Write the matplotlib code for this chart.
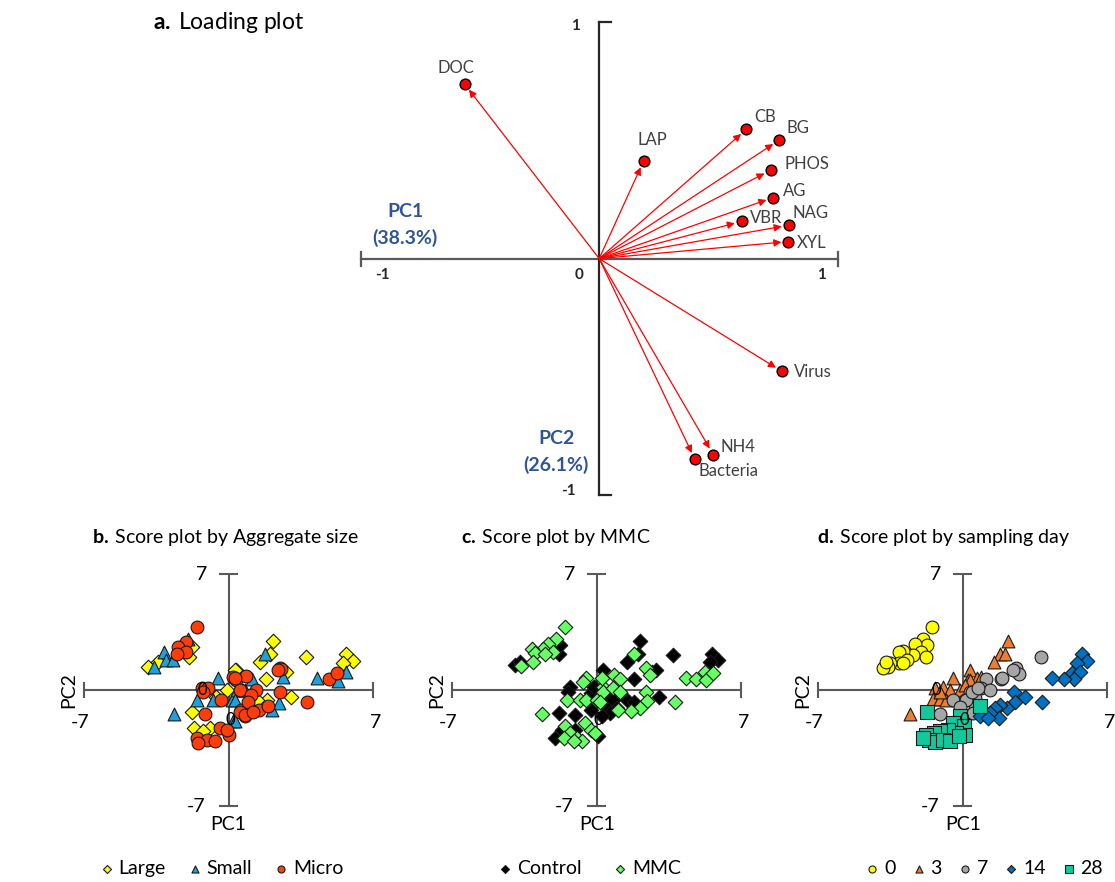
import matplotlib
matplotlib.use("Agg")
import matplotlib.pyplot as plt

plt.rcParams['font.family'] = ['Lato', 'DejaVu Sans']
plt.rcParams['mathtext.fontset'] = 'custom'
plt.rcParams['mathtext.rm'] = 'Lato'
plt.rcParams['mathtext.bf'] = 'Lato:bold'

# ---- loading plot data (PC1, PC2 loadings) ----
variables = ['DOC', 'LAP', 'CB', 'BG', 'PHOS', 'AG', 'VBR', 'NAG', 'XYL', 'Virus', 'NH4', 'Bacteria']
load_pc1 = [-0.564, 0.186, 0.617, 0.754, 0.719, 0.729, 0.597, 0.794, 0.793, 0.766, 0.478, 0.401]
load_pc2 = [0.738, 0.413, 0.547, 0.501, 0.374, 0.258, 0.157, 0.141, 0.072, -0.477, -0.829, -0.849]
label_x = [-0.601, 0.221, 0.694, 0.835, 0.869, 0.820, 0.699, 0.888, 0.890, 0.895, 0.582, 0.544]
label_y = [0.806, 0.501, 0.600, 0.552, 0.400, 0.286, 0.171, 0.192, 0.065, -0.480, -0.798, -0.900]

# ---- score plot b: by aggregate size ----
large_x = [-3.9, -3.4, -1.8, -1.9, 0.35, -0.1, -0.6, -1.8, -1.7, -0.9, -1.25,
           2.15, 2.0, 1.5, 1.8, 3.75, 5.7, 6.0, 5.55, 3.0, 0.3, 2.8, 1.85, 1.35]
large_y = [1.4, 1.7, 2.6, 2.0, 1.2, 0.0, -0.4, -1.3, -2.3, -2.3, -2.5,
           2.95, 2.2, 1.7, 0.65, 2.0, 2.15, 1.75, 1.65, -0.4, 1.2, 1.1, -0.6, -0.6]
small_x = [-3.15, -3.05, -3.6, -2.7, -1.95, -0.5, -1.55, -0.75, 0.15, -2.65, 0.2, 0.7, 0.4,
           1.75, 2.65, 4.3, 5.3, 5.7, 1.15, 2.45, 2.1, 0.3, 0.8, 0.3]
small_y = [2.3, 1.8, 1.4, 1.8, 3.1, 0.7, -0.6, -0.6, -0.6, -1.45, -1.9, 0.0, 0.0,
           2.2, 0.8, 0.7, 0.55, 1.1, 0.65, -0.8, -1.2, -0.6, 0.0, -1.9]
micro_x = [-1.55, -2.05, -2.45, -2.05, -2.5, -1.3, -1.0, -1.25, -0.35, -1.15, 0.2, 0.35, 0.55,
           0.6, 0.8, -0.4, 0.0, -0.1, -1.55, -1.05, -0.65, -1.5,
           2.5, 2.55, 2.4, 0.85, 0.3, 4.85, 5.25, 2.5, 3.8, 1.3, 1.1, 0.95, 1.45, 1.9, 0.55, 0.8, 1.2]
micro_y = [3.8, 2.9, 2.6, 2.3, 2.2, 0.1, 0.1, -0.1, -0.6, -1.45, 0.8, 0.6, 0.0,
           -1.2, -1.6, -2.3, -2.7, -2.4, -2.9, -3.0, -3.1, -3.2,
           1.35, 1.25, 1.2, 0.85, 0.7, 0.65, 1.0, -0.15, -0.7, 0.0, -0.3, -0.7, -1.2, -0.95, -1.3, -1.5, -1.3]

# ---- score plot c: by MMC ----
control_x = [-3.95, -3.7, -1.85, -1.8, -1.3, -1.4, 0.3, -1.85, -1.05, -1.7, -2.0, -1.05, -0.3, -0.15,
             0.5, 0.4, -0.3, 2.1, 2.0, 1.45, 3.7, 5.6, 5.85, 5.5, 2.7, 1.8, 3.0, -0.15,
             0.8, 1.45, 1.8, 1.0, 0.65, 0.25, 0.05, 2.85]
control_y = [1.5, 1.7, 2.2, 2.7, 0.2, -0.1, 1.2, -1.4, -1.5, -2.4, -2.9, -2.4, -0.2, 0.2,
             -0.4, -0.9, -1.2, 2.95, 2.15, 1.7, 2.1, 2.2, 1.8, 1.7, 1.1, 0.65, -0.4, 0.2,
             -0.6, -0.6, -0.7, -1.1, -1.4, -1.6, -2.75, 1.2]
mmc_x = [-1.55, -1.95, -2.35, -2.6, -2.1, -3.15, -3.0, -2.5, -3.1, -3.65, -0.5, -0.65, -1.45, -0.8,
         -0.5, 0.0, 0.3, -2.65, -1.55, -1.3, -1.6, -0.95, -0.55, -0.3, -0.1, -0.7, -1.1, 0.25,
         1.8, 2.4, 2.6, 4.3, 4.8, 5.25, 5.3, 5.65, 0.85, 1.15, 0.3, 0.8, 1.15, 2.4, 3.8,
         2.45, 2.1, 1.65, 1.05, 0.15]
mmc_y = [3.8, 3.05, 2.8, 2.45, 2.3, 2.45, 2.25, 2.15, 1.7, 1.45, 0.7, 0.5, -0.6, -0.6,
         -0.6, -0.6, 0.2, -1.45, -2.2, -2.6, -2.9, -2.9, -2.0, -2.4, -2.6, -3.1, -3.1, 0.7,
         2.2, 1.3, 0.9, 0.7, 0.65, 1.1, 0.6, 1.05, 0.9, 0.65, -0.1, 0.1, -0.1, -0.1, -0.7,
         -0.65, -1.1, -1.25, -1.2, -0.7]

# ---- score plot d: by sampling day ----
day0_x = [-1.5, -1.9, -1.75, -2.3, -2.0, -1.8, -2.4, -2.9, -3.1, -2.7, -3.1, -2.9, -3.5, -3.6, -3.85, -3.7]
day0_y = [3.8, 3.05, 2.7, 2.75, 2.3, 2.0, 2.1, 2.35, 2.3, 1.8, 1.65, 1.6, 1.6, 1.4, 1.35, 1.7]
day3_x = [0.35, -0.45, 0.27, 0.68, -1.35, -0.95, -0.6, -0.15, -1.45, -1.1, -2.55,
          2.2, 1.8, 2.05, 1.5, 0.9, 0.35, 0.1, -0.8, -1.1]
day3_y = [1.2, 0.7, 0.6, 0.7, 0.1, 0.2, 0.0, 0.0, -0.55, -0.55, -1.45,
          2.95, 2.2, 2.15, 1.7, 0.8, 0.6, 0.3, -0.6, -0.1]
day7_x = [3.8, 2.6, 2.75, 2.45, 1.85, 1.15, 0.9, 1.3, 0.35, 0.1, 0.6, 0.6,
          -0.45, 0.15, 0.45, -1.1, -0.15, 0.75, 1.9, 0.5]
day7_y = [2.0, 1.3, 0.95, 1.2, 0.65, 0.65, 0.1, 0.0, -0.1, -0.6, -0.5, -1.1,
          -0.6, -0.6, -0.1, -1.45, -1.0, 0.1, 0.7, -1.4]
day14_x = [5.8, 6.0, 5.55, 5.3, 5.7, 5.4, 4.9, 4.35, 2.5, 3.0, 3.85, 2.55, 2.15, 1.8,
           1.55, 1.75, 1.3, 0.85, 1.25]
day14_y = [2.15, 1.75, 1.65, 1.05, 1.1, 0.65, 0.65, 0.7, -0.1, -0.4, -0.7, -0.7, -1.1, -0.9,
           -1.1, -1.7, -1.4, -1.6, -1.7]
day28_x = [-1.75, 0.85, -0.15, -0.45, 0.05, 0.1, -0.3, -0.7, -1.1, -1.4, -1.8, -1.65,
           -1.35, -0.95, -0.6, -1.9, -0.2]
day28_y = [-1.3, -0.97, -1.6, -2.0, -2.2, -2.7, -2.6, -2.4, -2.5, -2.6, -2.7, -3.0,
           -3.15, -3.0, -3.1, -2.9, -2.8]

axis_col = '#595959'
text_col = '#404040'
blue_txt = '#2F5597'

fig = plt.figure(figsize=(11.15, 8.82), dpi=100)

# ---------------- a. Loading plot ----------------
ax = fig.add_axes([0.3235, 0.4388, 0.4278, 0.536])
ax.set_xlim(-1, 1)
ax.set_ylim(-1, 1)
ax.axis('off')
ax.plot([-1, 1], [0, 0], color=axis_col, lw=1.6, clip_on=False)
ax.plot([0, 0], [-1, 1], color='#262626', lw=1.6, clip_on=False)
for e in (-1, 1):
    ax.plot([e, e], [-0.03, 0.03], color=axis_col, lw=1.6, clip_on=False)
    ax.plot([0, 0.05], [e, e], color='#262626', lw=1.6, clip_on=False)

for i in range(len(variables)):
    ax.annotate('', xy=(load_pc1[i], load_pc2[i]), xytext=(0, 0),
                arrowprops=dict(arrowstyle='-|>', color='red', lw=0.9,
                                shrinkA=0, shrinkB=5, mutation_scale=11))
ax.scatter(load_pc1, load_pc2, s=60, color='#FF0000', edgecolor='black',
           linewidth=1.0, zorder=5, clip_on=False)
for i, v in enumerate(variables):
    ax.text(label_x[i], label_y[i], v, fontsize=12, color=text_col,
            ha='center', va='center')

ax.text(-0.91, -0.07, '-1', fontsize=11, fontweight='bold', color='#262626', ha='center', va='center')
ax.text(0.93, -0.07, '1', fontsize=11, fontweight='bold', color='#262626', ha='center', va='center')
ax.text(-0.085, -0.07, '0', fontsize=11, fontweight='bold', color='#262626', ha='center', va='center')
ax.text(-0.1, 0.985, '1', fontsize=11, fontweight='bold', color='#262626', ha='center', va='center')
ax.text(-0.13, -0.985, '-1', fontsize=11, fontweight='bold', color='#262626', ha='center', va='center')
ax.text(-0.813, 0.2, 'PC1', fontsize=14, fontweight='bold', color=blue_txt, ha='center', va='center')
ax.text(-0.813, 0.088, '(38.3%)', fontsize=14, fontweight='bold', color=blue_txt, ha='center', va='center')
ax.text(-0.18, -0.76, 'PC2', fontsize=14, fontweight='bold', color=blue_txt, ha='center', va='center')
ax.text(-0.18, -0.875, '(26.1%)', fontsize=14, fontweight='bold', color=blue_txt, ha='center', va='center')

fig.text(0.137, 0.975, r'$\bf{a.}\,$Loading plot', fontsize=16.5, color='black', va='center', ha='left')


def score_axes(left, title, tx=-6.6):
    a = fig.add_axes([left, 0.0862, 0.2592, 0.263])
    a.set_xlim(-7, 7)
    a.set_ylim(-7, 7)
    a.axis('off')
    a.plot([-7, 7], [0, 0], color=axis_col, lw=1.5, zorder=0)
    a.plot([0, 0], [-7, 7], color=axis_col, lw=1.5, zorder=0)
    for e in (-7, 7):
        a.plot([e, e], [-0.45, 0.45], color=axis_col, lw=1.5, zorder=0, clip_on=False)
        a.plot([-0.4, 0.4], [e, e], color=axis_col, lw=1.5, zorder=0, clip_on=False)
    a.text(-1.3, 7, '7', fontsize=14, ha='center', va='center')
    a.text(-1.6, -7.05, '-7', fontsize=14, ha='center', va='center')
    a.text(-7.2, -1.95, '-7', fontsize=14, ha='center', va='center', clip_on=False)
    a.text(7.1, -1.95, '7', fontsize=14, ha='center', va='center', clip_on=False)
    a.text(0, -8.1, 'PC1', fontsize=14, ha='center', va='center')
    a.text(-7.75, 0, 'PC2', fontsize=14, ha='center', va='center', rotation=90)
    a.text(tx, 9.2, title, fontsize=14, ha='left', va='center')
    return a


mk = dict(edgecolor='#1a1a1a', linewidth=0.8, zorder=3)

# ---------------- b. by aggregate size ----------------
ab = score_axes(0.0755, r'$\bf{b.}\,$Score plot by Aggregate size')
ab.scatter(large_x, large_y, marker='D', s=55, color='#FFFF00', label='Large', **mk)
ab.scatter(small_x, small_y, marker='^', s=85, color='#1DA1DB', label='Small', **mk)
ab.scatter(micro_x, micro_y, marker='o', s=85, color='#FF3D0A', label='Micro', **mk)
ab.text(-1.3, 0, '0', fontsize=12, ha='center', va='center', zorder=4)
ab.text(0.1, -1.8, '0', fontsize=12, ha='center', va='center', zorder=4)
ab.legend(loc='center', bbox_to_anchor=(0.47, -0.27), ncol=3, frameon=False, fontsize=14,
          markerscale=0.55, handletextpad=0.1, columnspacing=1.0, handlelength=1.0)

# ---------------- c. by MMC ----------------
ac = score_axes(0.4056, r'$\bf{c.}\,$Score plot by MMC')
ac.scatter(control_x, control_y, marker='D', s=55, color='black', label='Control', **mk)
ac.scatter(mmc_x, mmc_y, marker='D', s=55, color='#66FF66', label='MMC', **mk)
ac.text(0.1, -1.8, '0', fontsize=12, ha='center', va='center', zorder=4)
ac.legend(loc='center', bbox_to_anchor=(0.47, -0.27), ncol=2, frameon=False, fontsize=14,
          markerscale=0.55, handletextpad=0.1, columnspacing=1.5, handlelength=1.0)

# ---------------- d. by sampling day ----------------
ad = score_axes(0.7338, r'$\bf{d.}\,$Score plot by sampling day', tx=-7.05)
ad.scatter(day0_x, day0_y, marker='o', s=85, color='#FFFF00', label='0', **mk)
ad.scatter(day3_x, day3_y, marker='^', s=85, color='#ED7D31', label='3', **mk)
ad.scatter(day7_x, day7_y, marker='o', s=85, color='#A6A6A6', label='7', **mk)
ad.scatter(day14_x, day14_y, marker='D', s=55, color='#0070C0', label='14', **mk)
ad.scatter(day28_x, day28_y, marker='s', s=95, color='#12C99B', label='28', **mk)
ad.text(-1.3, 0, '0', fontsize=12, ha='center', va='center', zorder=4)
ad.text(0.1, -1.8, '0', fontsize=12, ha='center', va='center', zorder=4)
ad.legend(loc='center', bbox_to_anchor=(0.57, -0.27), ncol=5, frameon=False, fontsize=14,
          markerscale=0.55, handletextpad=0.1, columnspacing=0.7, handlelength=1.0)

fig.savefig('out.png', dpi=100)
